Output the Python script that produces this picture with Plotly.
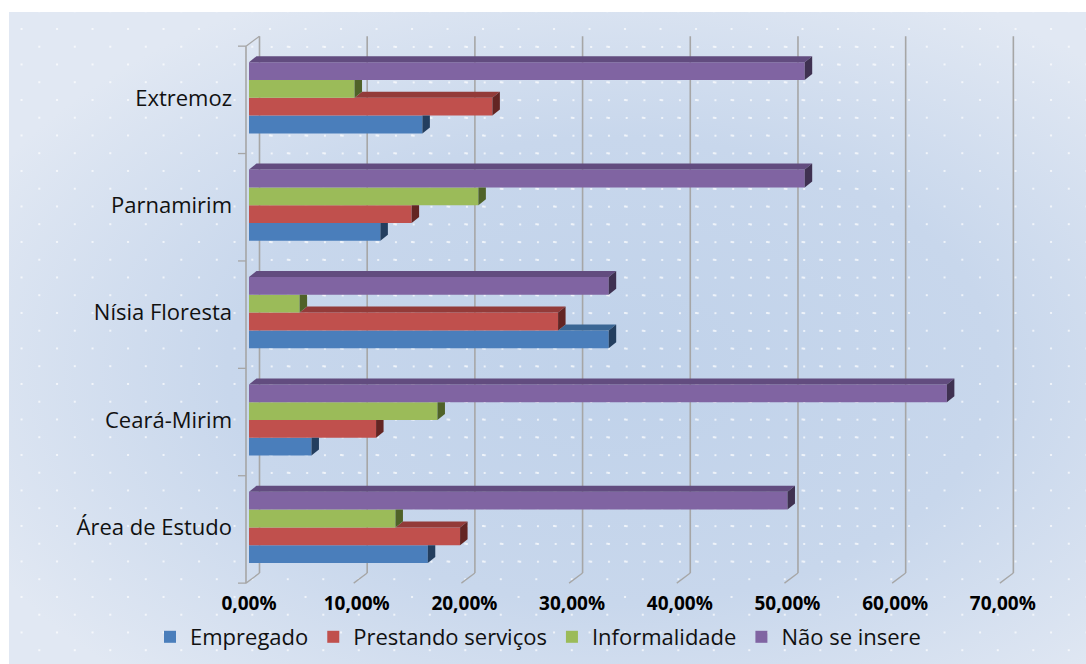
import base64
import plotly.graph_objects as go

# ---------------- data ----------------
categories = ["Área de Estudo", "Ceará-Mirim", "Nísia Floresta", "Parnamirim", "Extremoz"]
series_names = ["Empregado", "Prestando serviços", "Informalidade", "Não se insere"]
empregado = [16.6, 5.8, 33.4, 12.2, 16.1]
prestando_servicos = [19.6, 11.8, 28.7, 15.1, 22.6]
informalidade = [13.6, 17.5, 4.7, 21.3, 9.8]
nao_se_insere = [50.0, 64.8, 33.4, 51.6, 51.6]
tick_values = [0, 10, 20, 30, 40, 50, 60, 70]
tick_labels = ["0,00%", "10,00%", "20,00%", "30,00%", "40,00%", "50,00%", "60,00%", "70,00%"]

series_values = [empregado, prestando_servicos, informalidade, nao_se_insere]

# ---------------- style ----------------
front_colors = ["#4a7ebb", "#c0504d", "#9bbb59", "#8064a2"]
top_colors = ["#3a6694", "#933b39", "#76923c", "#624c7f"]
side_colors = ["#233e5f", "#632523", "#4f6228", "#3f3151"]
FONT = "Open Sans"
grid_color = "#a6a6a6"

W, H = 1086, 664
ML, MR, MT, MB = 236, 56, 28, 74
x_range = [-1.207, 72.52]
y_range = [-0.583, 4.650]
bargap = 0.337
group_w = 1 - bargap
bar_h = group_w / 4

# 3D offsets (in axis units)
dx, dy = 0.696, 0.0559          # bar depth
fx = -0.279                     # front plane x shift
bx = 0.975                      # back wall x shift
front_top, front_bot = 4.481, -0.519
back_top, back_bot = 4.574, -0.4255
tick_len = 0.743

fig = go.Figure()
ypos = list(range(len(categories)))
for k, (name, vals) in enumerate(zip(series_names, series_values)):
    fig.add_trace(go.Bar(
        y=ypos, x=vals, name=name, orientation="h",
        marker=dict(color=front_colors[k], line=dict(width=0)),
        hovertemplate="%{fullData.name}: %{x:.2f}%<extra></extra>",
    ))

shapes = []
# back wall gridlines
for t in tick_values:
    shapes.append(dict(type="line", xref="x", yref="y", layer="below",
                       x0=t + bx, x1=t + bx, y0=back_bot, y1=back_top,
                       line=dict(color=grid_color, width=1.6)))
    # floor tick connectors
    shapes.append(dict(type="line", xref="x", yref="y", layer="below",
                       x0=t + fx, x1=t + bx, y0=front_bot, y1=back_bot,
                       line=dict(color=grid_color, width=1.3)))
# front-left axis line and top connector
shapes.append(dict(type="line", xref="x", yref="y", layer="below",
                   x0=fx, x1=fx, y0=front_bot, y1=front_top,
                   line=dict(color=grid_color, width=1.6)))
shapes.append(dict(type="line", xref="x", yref="y", layer="below",
                   x0=fx, x1=bx, y0=front_top, y1=back_top,
                   line=dict(color=grid_color, width=1.3)))
for j in range(len(categories) + 1):
    yb = front_bot + j
    shapes.append(dict(type="line", xref="x", yref="y", layer="below",
                       x0=fx - tick_len, x1=fx, y0=yb, y1=yb,
                       line=dict(color=grid_color, width=1.3)))


def path(pts):
    return "M " + " L ".join(f"{px:.4f},{py:.4f}" for px, py in pts) + " Z"


for i in range(len(categories)):
    for k in range(4):
        L = series_values[k][i]
        yb = i - group_w / 2 + k * bar_h
        yt = yb + bar_h
        U = series_values[k + 1][i] if k < 3 else None
        # top face
        if U is None:
            top = [(0, yt), (L, yt), (L + dx, yt + dy), (dx, yt + dy)]
        elif U < L:
            top = [(U, yt), (L, yt), (L + dx, yt + dy), (U + dx, yt + dy)]
        else:
            top = None
        if top:
            shapes.append(dict(type="path", xref="x", yref="y", layer="above",
                               path=path(top), fillcolor=top_colors[k],
                               line=dict(width=0)))
        # side face
        if U is None or U < L:
            side = [(L, yb), (L + dx, yb + dy), (L + dx, yt + dy), (L, yt)]
        else:
            side = [(L, yb), (L + dx, yb + dy), (L + dx, yt), (L, yt)]
        shapes.append(dict(type="path", xref="x", yref="y", layer="above",
                           path=path(side), fillcolor=side_colors[k],
                           line=dict(width=0)))

# background (gradient + dot patterns) as an inline SVG image
BW, BH = 1077, 652
dot = 'fill="#ffffff" fill-opacity="0.85"'
svg = f'''<svg xmlns="http://www.w3.org/2000/svg" width="{BW}" height="{BH}" viewBox="0 0 {BW} {BH}">
<defs>
<radialGradient id="g" cx="0.56" cy="0.55" r="0.65">
<stop offset="0" stop-color="#c0d2ea"/>
<stop offset="0.55" stop-color="#c8d7ec"/>
<stop offset="1" stop-color="#e1e8f3"/>
</radialGradient>
<pattern id="d" x="30.3" y="34.7" width="35.5" height="35.5" patternUnits="userSpaceOnUse">
<circle cx="0" cy="0" r="1.1" {dot}/>
<circle cx="35.5" cy="0" r="1.1" {dot}/>
<circle cx="0" cy="35.5" r="1.1" {dot}/>
<circle cx="35.5" cy="35.5" r="1.1" {dot}/>
<circle cx="17.75" cy="17.75" r="1.1" {dot}/>
</pattern>
<pattern id="s" x="14.2" y="17.2" width="17.75" height="17.75" patternUnits="userSpaceOnUse">
<circle cx="0" cy="0" r="1.1" {dot}/>
<circle cx="17.75" cy="0" r="1.1" {dot}/>
<circle cx="0" cy="17.75" r="1.1" {dot}/>
<circle cx="17.75" cy="17.75" r="1.1" {dot}/>
</pattern>
</defs>
<rect width="{BW}" height="{BH}" fill="url(#g)"/>
<rect width="{BW}" height="{BH}" fill="url(#d)"/>
<rect x="249" y="24" width="645" height="537" fill="url(#s)"/>
</svg>'''
src = "data:image/svg+xml;base64," + base64.b64encode(svg.encode()).decode()
pw, ph = W - ML - MR, H - MT - MB

fig.update_layout(
    width=W, height=H, autosize=False,
    margin=dict(l=ML, r=MR, t=MT, b=MB, autoexpand=False),
    paper_bgcolor="#ffffff", plot_bgcolor="rgba(0,0,0,0)",
    barmode="group", bargap=bargap, bargroupgap=0,
    shapes=shapes,
    images=[dict(source=src, xref="paper", yref="paper",
                 x=(9 - ML) / pw, y=(H - MB - 12) / ph,
                 sizex=BW / pw, sizey=BH / ph,
                 xanchor="left", yanchor="top", sizing="stretch", layer="below")],
    xaxis=dict(range=x_range, tickvals=tick_values, ticktext=tick_labels,
               showgrid=False, zeroline=False, showline=False, ticks="",
               tickfont=dict(family=FONT, size=19, color="#000000", weight=700),
               automargin=False, fixedrange=True),
    yaxis=dict(range=y_range, tickvals=ypos, ticktext=categories,
               showgrid=False, zeroline=False, showline=False, ticks="",
               tickfont=dict(family=FONT, size=22, color="#111111"),
               ticklabelstandoff=3,
               automargin=False, fixedrange=True),
    legend=dict(orientation="h", x=(538 - ML) / pw, xanchor="center",
                y=-(637 - (H - MB)) / ph, yanchor="middle",
                font=dict(family=FONT, size=22, color="#111111"),
                bgcolor="rgba(0,0,0,0)", traceorder="normal"),
    showlegend=True,
)

fig.write_html("out.html")
